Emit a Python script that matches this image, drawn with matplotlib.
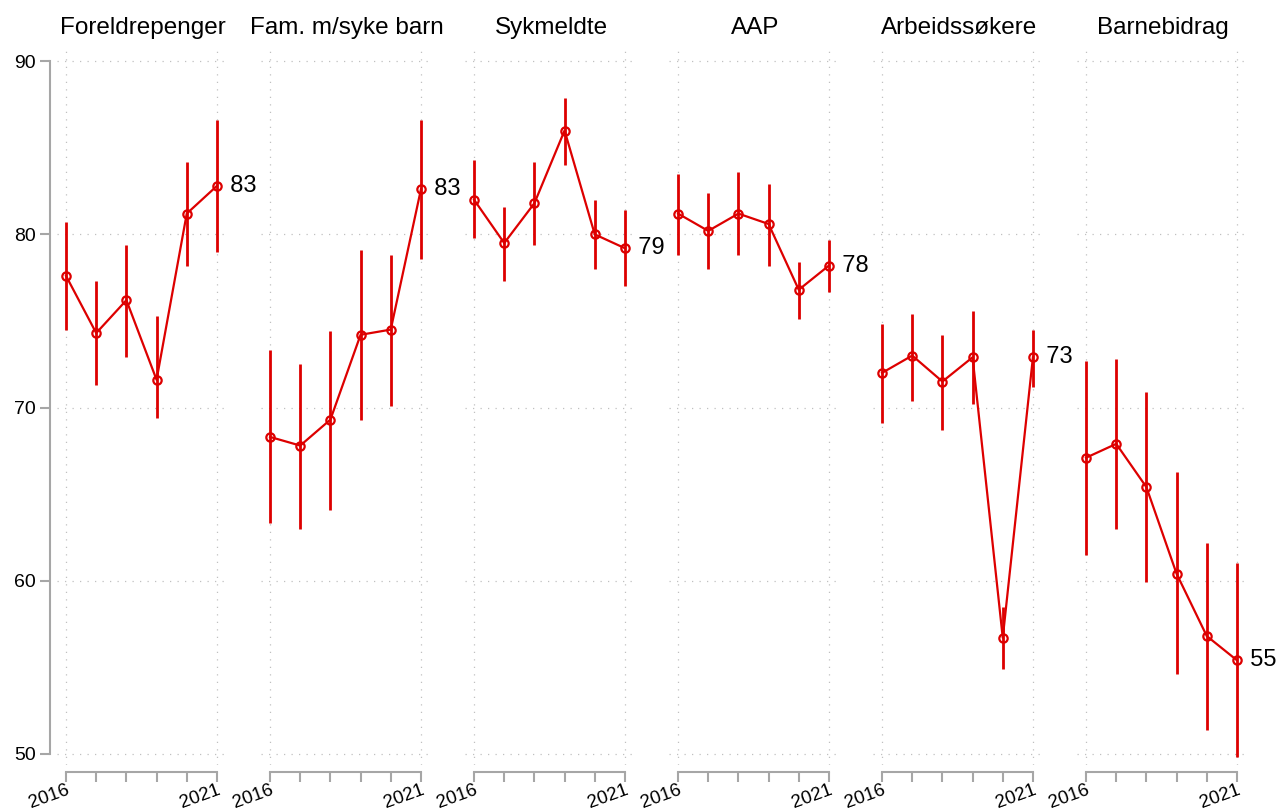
import matplotlib.pyplot as plt
import numpy as np

plt.rcParams['font.family'] = ['Liberation Sans', 'DejaVu Sans']

# tjenester og år
titles = ['Foreldrepenger', 'Fam. m/syke barn', 'Sykmeldte', 'AAP',
          'Arbeidssøkere', 'Barnebidrag']
years = [2016, 2017, 2018, 2019, 2020, 2021]

# andel fornøyde (%), ett array per tjeneste i samme rekkefølge som titles
estimates = np.array([
    [77.6, 74.3, 76.2, 71.6, 81.2, 82.8],
    [68.3, 67.8, 69.3, 74.2, 74.5, 82.6],
    [82.0, 79.5, 81.8, 86.0, 80.0, 79.2],
    [81.2, 80.2, 81.2, 80.6, 76.8, 78.2],
    [72.0, 73.0, 71.5, 72.9, 56.7, 72.9],
    [67.1, 67.9, 65.4, 60.4, 56.8, 55.4],
])
# nedre og øvre grense for konfidensintervall
ci_low = np.array([
    [74.5, 71.3, 72.9, 69.4, 78.2, 79.0],
    [63.3, 63.0, 64.1, 69.3, 70.1, 78.6],
    [79.8, 77.3, 79.4, 84.0, 78.0, 77.0],
    [78.8, 78.0, 78.8, 78.2, 75.1, 76.7],
    [69.1, 70.4, 68.7, 70.2, 54.9, 71.2],
    [61.5, 63.0, 59.9, 54.6, 51.4, 49.8],
])
ci_high = np.array([
    [80.7, 77.3, 79.4, 75.3, 84.2, 86.6],
    [73.3, 72.5, 74.4, 79.1, 78.8, 86.6],
    [84.3, 81.6, 84.2, 87.9, 82.0, 81.4],
    [83.5, 82.4, 83.6, 82.9, 78.4, 79.7],
    [74.8, 75.4, 74.2, 75.6, 58.5, 74.5],
    [72.7, 72.8, 70.9, 66.3, 62.2, 61.0],
])

red = '#dd0000'
grey = '#a6a6a6'
W, H = 1277, 810

fig = plt.figure(figsize=(W / 100, H / 100), dpi=100)

for i, title in enumerate(titles):
    left = 57 + i * 204
    ax = fig.add_axes([left / W, 45 / H, 172 / W, 715 / H])

    yerr = [estimates[i] - ci_low[i], ci_high[i] - estimates[i]]
    ax.errorbar(years, estimates[i], yerr=yerr, color=red, lw=1.6,
                elinewidth=2.0, capsize=0, marker='o', ms=6,
                mfc='none', mec=red, mew=1.6, zorder=3)
    ax.text(years[-1], estimates[i][-1], f'  {round(estimates[i][-1])}',
            fontsize=17, va='center', ha='left', clip_on=False)

    ax.set_xlim(2015.7, 2021.4)
    ax.set_ylim(49.35, 90.65)

    for side in ['top', 'right', 'left']:
        ax.spines[side].set_visible(False)
    ax.spines['bottom'].set_position(('outward', 5))
    ax.spines['bottom'].set_bounds(2016, 2021)
    ax.spines['bottom'].set_color(grey)
    ax.spines['bottom'].set_linewidth(1.5)
    ax.tick_params(axis='x', which='both', direction='out', length=7,
                   width=1.5, color=grey, pad=-0.5, labelsize=13.5)

    if i == 0:
        ax.spines['left'].set_visible(True)
        ax.spines['left'].set_position(('outward', 5))
        ax.spines['left'].set_bounds(50, 90)
        ax.spines['left'].set_color(grey)
        ax.spines['left'].set_linewidth(1.5)
        ax.tick_params(axis='y', direction='out', length=7, width=1.5,
                       color=grey, labelsize=14, pad=3)
    else:
        ax.tick_params(axis='y', left=False, labelleft=False)

    ax.set_xticks([2016, 2021])
    ax.set_xticks([2017, 2018, 2019, 2020], minor=True)
    ax.set_xticklabels(['2016', '2021'])
    for lbl in ax.get_xticklabels():
        lbl.set_fontsize(13.5)
        lbl.set_rotation(20)
        lbl.set_ha('right')
        lbl.set_rotation_mode('anchor')
    ax.set_yticks([50, 60, 70, 80, 90])

    ax.grid(True, which='major', color='#c0c0c0', lw=0.9,
            linestyle=(0, (1, 5)))
    ax.set_axisbelow(True)

    ax.set_title(title, fontsize=17.5, pad=11.5)

fig.savefig('out.png', dpi=100, facecolor='white')
